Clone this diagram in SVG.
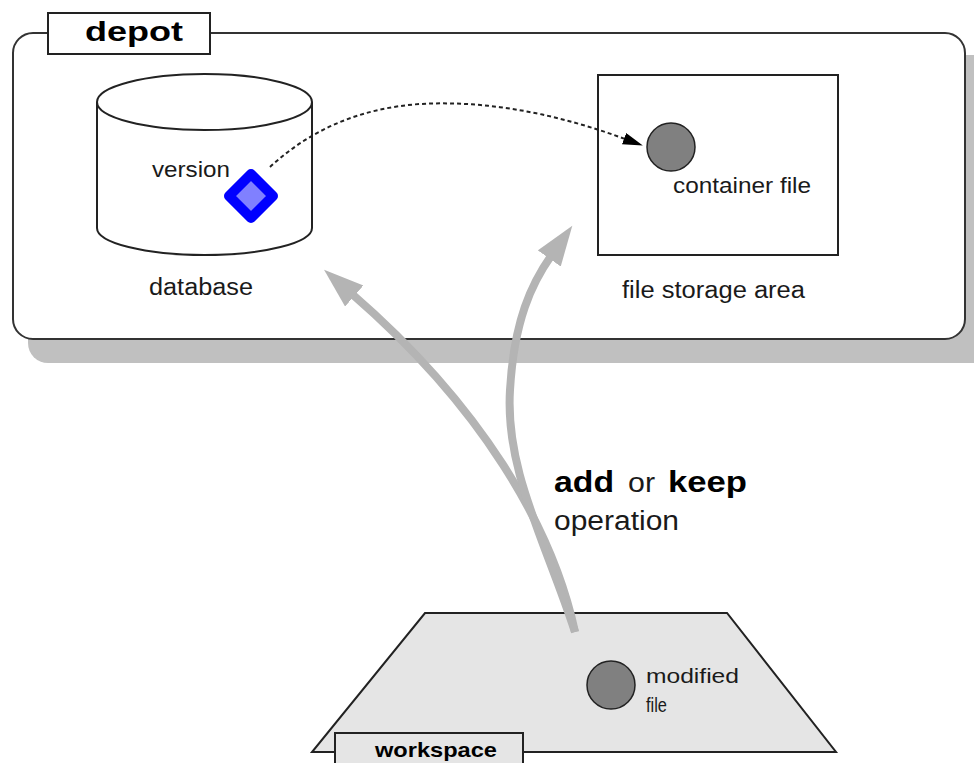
<svg xmlns="http://www.w3.org/2000/svg" width="974" height="763" viewBox="0 0 974 763">
  <style>
    .lbl { font-family: "Liberation Sans", Arial, sans-serif; fill: #1a1a1a; }
    .b { font-weight: bold; fill: #000; }
    .edge { fill: none; stroke: #222; stroke-width: 2; }
    .file { fill: #808080; stroke: #222; stroke-width: 1.5; }
    .flow { fill: none; stroke: #b4b4b4; stroke-width: 8; }
    .ref { fill: none; stroke: #222; stroke-width: 2; stroke-dasharray: 4 3; }
  </style>
  <defs>
    <marker id="grayHead" markerUnits="userSpaceOnUse" markerWidth="42" markerHeight="30" refX="3" refY="14" orient="auto">
      <path d="M0,0 L40,14 L0,28 Z" fill="#b4b4b4"/>
    </marker>
    <marker id="blackHead" markerUnits="userSpaceOnUse" markerWidth="22" markerHeight="14" refX="1" refY="6" orient="auto">
      <path d="M0,0 L20,6 L0,12 Z" fill="#000"/>
    </marker>
  </defs>

  <rect width="974" height="763" fill="#fff"/>

  <g id="depot">
    <path d="M28,55 H974 V363 H48 A20,20 0 0 1 28,343 Z" fill="#c0c0c0"/>
    <rect x="13" y="33" width="952" height="306" rx="20" ry="20" fill="#fff" stroke="#333" stroke-width="2"/>
    <rect x="48" y="13" width="162" height="41" fill="#fff" stroke="#222" stroke-width="2"/>
    <text class="lbl b" x="85" y="41" font-size="28" textLength="98" lengthAdjust="spacingAndGlyphs">depot</text>
  </g>

  <g id="database">
    <path d="M97,102 V228 A107.5,27 0 0 0 312,228 V102" fill="#fff" stroke="#222" stroke-width="2"/>
    <ellipse cx="204.5" cy="102" rx="107.5" ry="28" fill="#fff" stroke="#222" stroke-width="2"/>
    <text class="lbl" x="149" y="295" font-size="23" textLength="104" lengthAdjust="spacingAndGlyphs">database</text>
  </g>

  <g id="version">
    <polygon points="251,174 273,196 251,218 229,196" fill="#8080ff" stroke="#0000ff" stroke-width="10" stroke-linejoin="round"/>
    <text class="lbl" x="152" y="177" font-size="22" textLength="78" lengthAdjust="spacingAndGlyphs">version</text>
  </g>

  <g id="file-storage">
    <rect x="598" y="75" width="240" height="180" fill="#fff" stroke="#222" stroke-width="2"/>
    <text class="lbl" x="622" y="298" font-size="23" textLength="183" lengthAdjust="spacingAndGlyphs">file storage area</text>
  </g>

  <g id="container-file">
    <circle class="file" cx="671" cy="147" r="24"/>
    <text class="lbl" x="673" y="193" font-size="22" textLength="138" lengthAdjust="spacingAndGlyphs">container file</text>
  </g>

  <g id="workspace">
    <polygon points="425,613 727,613 836,752 312,752" fill="#e5e5e5" stroke="#222" stroke-width="2"/>
    <rect x="335" y="733" width="188" height="40" fill="#e5e5e5" stroke="#222" stroke-width="2"/>
    <text class="lbl b" x="375" y="757" font-size="21" textLength="122" lengthAdjust="spacingAndGlyphs">workspace</text>
  </g>

  <g id="modified-file">
    <circle class="file" cx="611" cy="685" r="24"/>
    <text class="lbl" x="646" y="683" font-size="21" textLength="93" lengthAdjust="spacingAndGlyphs">modified</text>
    <text class="lbl" x="646" y="712" font-size="21" textLength="21" lengthAdjust="spacingAndGlyphs">file</text>
  </g>

  <g id="connectors">
    <path class="ref" d="M270,167 C310,130 360,108 420,104 C490,100 560,115 625,139" marker-end="url(#blackHead)"/>
    <path class="flow" d="M575,632 C552,525 480,405 352,294" marker-end="url(#grayHead)"/>
    <path class="flow" d="M575,632 C545,540 505,470 510,390 C514,320 532,283 551,256" marker-end="url(#grayHead)"/>
  </g>

  <g id="operation-label">
    <text class="lbl b" x="554" y="492" font-size="29" textLength="60" lengthAdjust="spacingAndGlyphs">add</text>
    <text class="lbl" x="628" y="492" font-size="27" textLength="27" lengthAdjust="spacingAndGlyphs">or</text>
    <text class="lbl b" x="668" y="492" font-size="29" textLength="79" lengthAdjust="spacingAndGlyphs">keep</text>
    <text class="lbl" x="554" y="530" font-size="27" textLength="125" lengthAdjust="spacingAndGlyphs">operation</text>
  </g>
</svg>
